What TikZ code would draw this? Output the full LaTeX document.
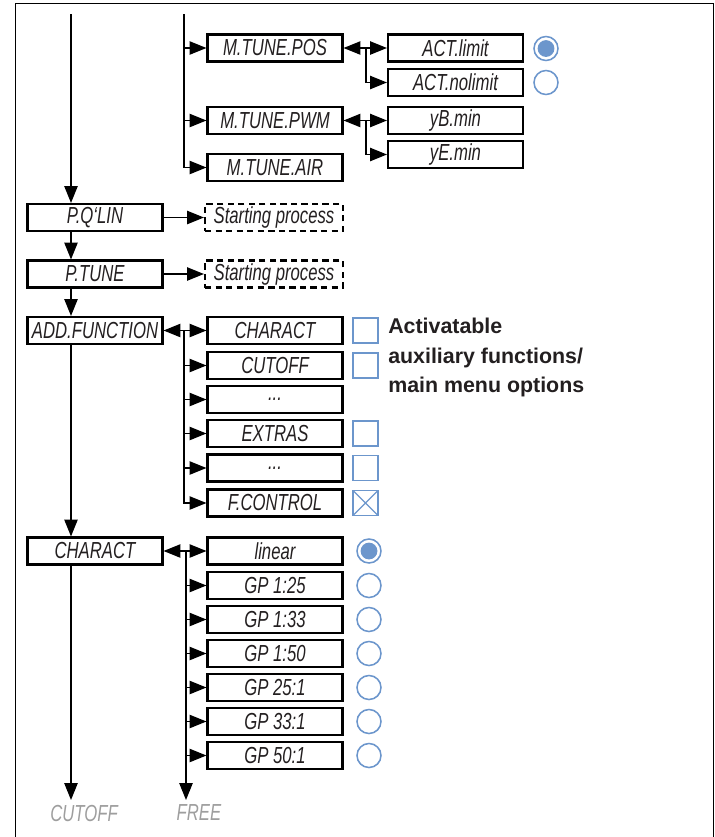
\documentclass[tikz,border=0pt]{standalone}
\usepackage{fontspec}
\usepackage{tikz}
\usetikzlibrary{arrows.meta}

\newfontfamily\boxfont[FakeStretch=0.72]{Liberation Sans}
\newfontfamily\notefont{Liberation Sans}
\definecolor{selblue}{RGB}{108,150,204}
\definecolor{boxtext}{RGB}{35,31,32}

\begin{document}
\begin{tikzpicture}[
  x=0.025cm, y=-0.025cm,
  box/.style  = {draw, line width=1.5pt, minimum width=3.375cm,
                 minimum height=0.675cm, inner sep=0pt, text=boxtext,
                 font={\boxfont\fontsize{16.5}{18}\selectfont\itshape}},
  dbox/.style = {box, dashed, dash pattern=on 4.5pt off 3pt, minimum width=3.45cm},
  arr/.style  = {-{Triangle[length=12pt,width=9.5pt]}, line width=0.9pt},
  biarr/.style = {{Triangle[length=12pt,width=9.5pt]}-{Triangle[length=12pt,width=9.5pt]},
                  line width=0.9pt},
  radio/.style = {circle, draw=selblue, line width=1.1pt, minimum size=0.6cm, inner sep=0pt},
  radioon/.style = {radio, path picture={\fill[selblue] (path picture bounding box.center) circle (0.21cm);}},
  check/.style = {rectangle, draw=selblue, line width=1.1pt, minimum size=0.62cm, inner sep=0pt},
  checkon/.style = {check, path picture={\draw[selblue, line width=0.9pt]
                     (path picture bounding box.south west) -- (path picture bounding box.north east)
                     (path picture bounding box.north west) -- (path picture bounding box.south east);}},
  lbl/.style  = {text=black!38, font={\boxfont\fontsize{16.5}{18}\selectfont\itshape}}
]
  % Frame
  \useasboundingbox (0,0) rectangle (715,837);
  \draw[line width=0.7pt] (15,845) -- (15,3) -- (713,3) -- (713,845);

  % Coming from above
  \coordinate (ltop) at (71,14);
  \coordinate (mtop) at (184,14);

  % Manual tune
  \node[box] (mpos) at (275,48)    {M.TUNE.POS};
  \node[box] (mpwm) at (275,120.5) {M.TUNE.PWM};
  \node[box] (mair) at (275,167.5) {M.TUNE.AIR};

  \node[box] (actlim)   at (455.5,48)    {ACT.limit};
  \node[box] (actnolim) at (455.5,82.5)  {ACT.nolimit};
  \node[box] (ybmin)    at (455.5,120.5) {yB.min};
  \node[box] (yemin)    at (455.5,154.5) {yE.min};

  \node[radioon] (ractlim)   at (546,48.5) {};
  \node[radio]   (ractnolim) at (546,82.5) {};

  % Main menu
  \node[box]  (qlin)      at (95,217.5) {P.Q‘LIN};
  \node[dbox] (qlinstart) at (274,217.5) {Starting process};
  \node[box]  (ptune)      at (95,274) {P.TUNE};
  \node[dbox] (ptunestart) at (274,274) {Starting process};
  \node[box]  (addfn)      at (95,330.5) {ADD.FUNCTION};

  % Auxiliary functions
  \node[box] (fchar)   at (275,330.5) {CHARACT};
  \node[box] (fcut)    at (275,365.5) {CUTOFF};
  \node[box] (fdots)   at (275,399.5) {...};
  \node[box] (fextras) at (275,433.5) {EXTRAS};
  \node[box] (fmore)   at (275,468)   {...};
  \node[box] (fctrl)   at (275,503)   {F.CONTROL};

  \node[check]   (kchar)   at (365.5,330.5) {};
  \node[check]   (kcut)    at (365.5,365.5) {};
  \node[check]   (kextras) at (365.5,433.5) {};
  \node[check]   (kmore)   at (365.5,468)   {};
  \node[checkon] (kctrl)   at (365.5,503)   {};

  \node[anchor=north west, inner sep=0pt, align=left, text=boxtext,
        font={\notefont\fontsize{15.2}{21}\selectfont\bfseries}] (note) at (388,318)
        {Activatable\\auxiliary functions/\\main menu options};

  % Characteristic
  \node[box] (charact) at (95,551)   {CHARACT};
  \node[box] (clin)    at (275,551)   {linear};
  \node[box] (cgpa)    at (275,585.5) {GP 1:25};
  \node[box] (cgpb)    at (275,619.5) {GP 1:33};
  \node[box] (cgpc)    at (275,653.5) {GP 1:50};
  \node[box] (cgpd)    at (275,687.5) {GP 25:1};
  \node[box] (cgpe)    at (275,721.5) {GP 33:1};
  \node[box] (cgpf)    at (275,755.5) {GP 50:1};

  \node[radioon] (rlin) at (369,551)   {};
  \node[radio]   (rgpa) at (369,585.5) {};
  \node[radio]   (rgpb) at (369,619.5) {};
  \node[radio]   (rgpc) at (369,653.5) {};
  \node[radio]   (rgpd) at (369,687.5) {};
  \node[radio]   (rgpe) at (369,721.5) {};
  \node[radio]   (rgpf) at (369,755.5) {};

  % Next items
  \node[lbl, anchor=north] (cutoff) at (84,800)  {CUTOFF};
  \node[lbl, anchor=north] (free)   at (199,800) {FREE};

  % Junctions
  \coordinate (jpos)  at (366,48);
  \coordinate (jpwm)  at (366,120.5);
  \coordinate (jadd)  at (184,330.5);
  \coordinate (jchar) at (186,551);

  % Connections
  \draw[arr] (mtop) |- (mpos.west);
  \draw[arr] (mtop) |- (mpwm.west);
  \draw[arr] (mtop) |- (mair.west);

  \draw[biarr] (mpos.east) -- (actlim.west);
  \draw[arr] (jpos) |- (actnolim.west);
  \draw[biarr] (mpwm.east) -- (ybmin.west);
  \draw[arr] (jpwm) |- (yemin.west);

  \draw[arr] (ltop) -- (ltop |- qlin.north);
  \draw[arr] (qlin.south -| ltop) -- (ltop |- ptune.north);
  \draw[arr] (ptune.south -| ltop) -- (ltop |- addfn.north);
  \draw[arr] (addfn.south -| ltop) -- (ltop |- charact.north);
  \draw[arr] (charact.south -| ltop) -- (ltop |- cutoff.north);

  \draw[arr] (qlin.east) -- (qlinstart.west);
  \draw[arr] (ptune.east) -- (ptunestart.west);

  \draw[biarr] (addfn.east) -- (fchar.west);
  \draw[arr] (jadd) |- (fcut.west);
  \draw[arr] (jadd) |- (fdots.west);
  \draw[arr] (jadd) |- (fextras.west);
  \draw[arr] (jadd) |- (fmore.west);
  \draw[arr] (jadd) |- (fctrl.west);

  \draw[biarr] (charact.east) -- (clin.west);
  \draw[arr] (jchar) |- (cgpa.west);
  \draw[arr] (jchar) |- (cgpb.west);
  \draw[arr] (jchar) |- (cgpc.west);
  \draw[arr] (jchar) |- (cgpd.west);
  \draw[arr] (jchar) |- (cgpe.west);
  \draw[arr] (jchar) |- (cgpf.west);
  \draw[arr] (jchar) -- (jchar |- free.north);

\end{tikzpicture}
\end{document}
